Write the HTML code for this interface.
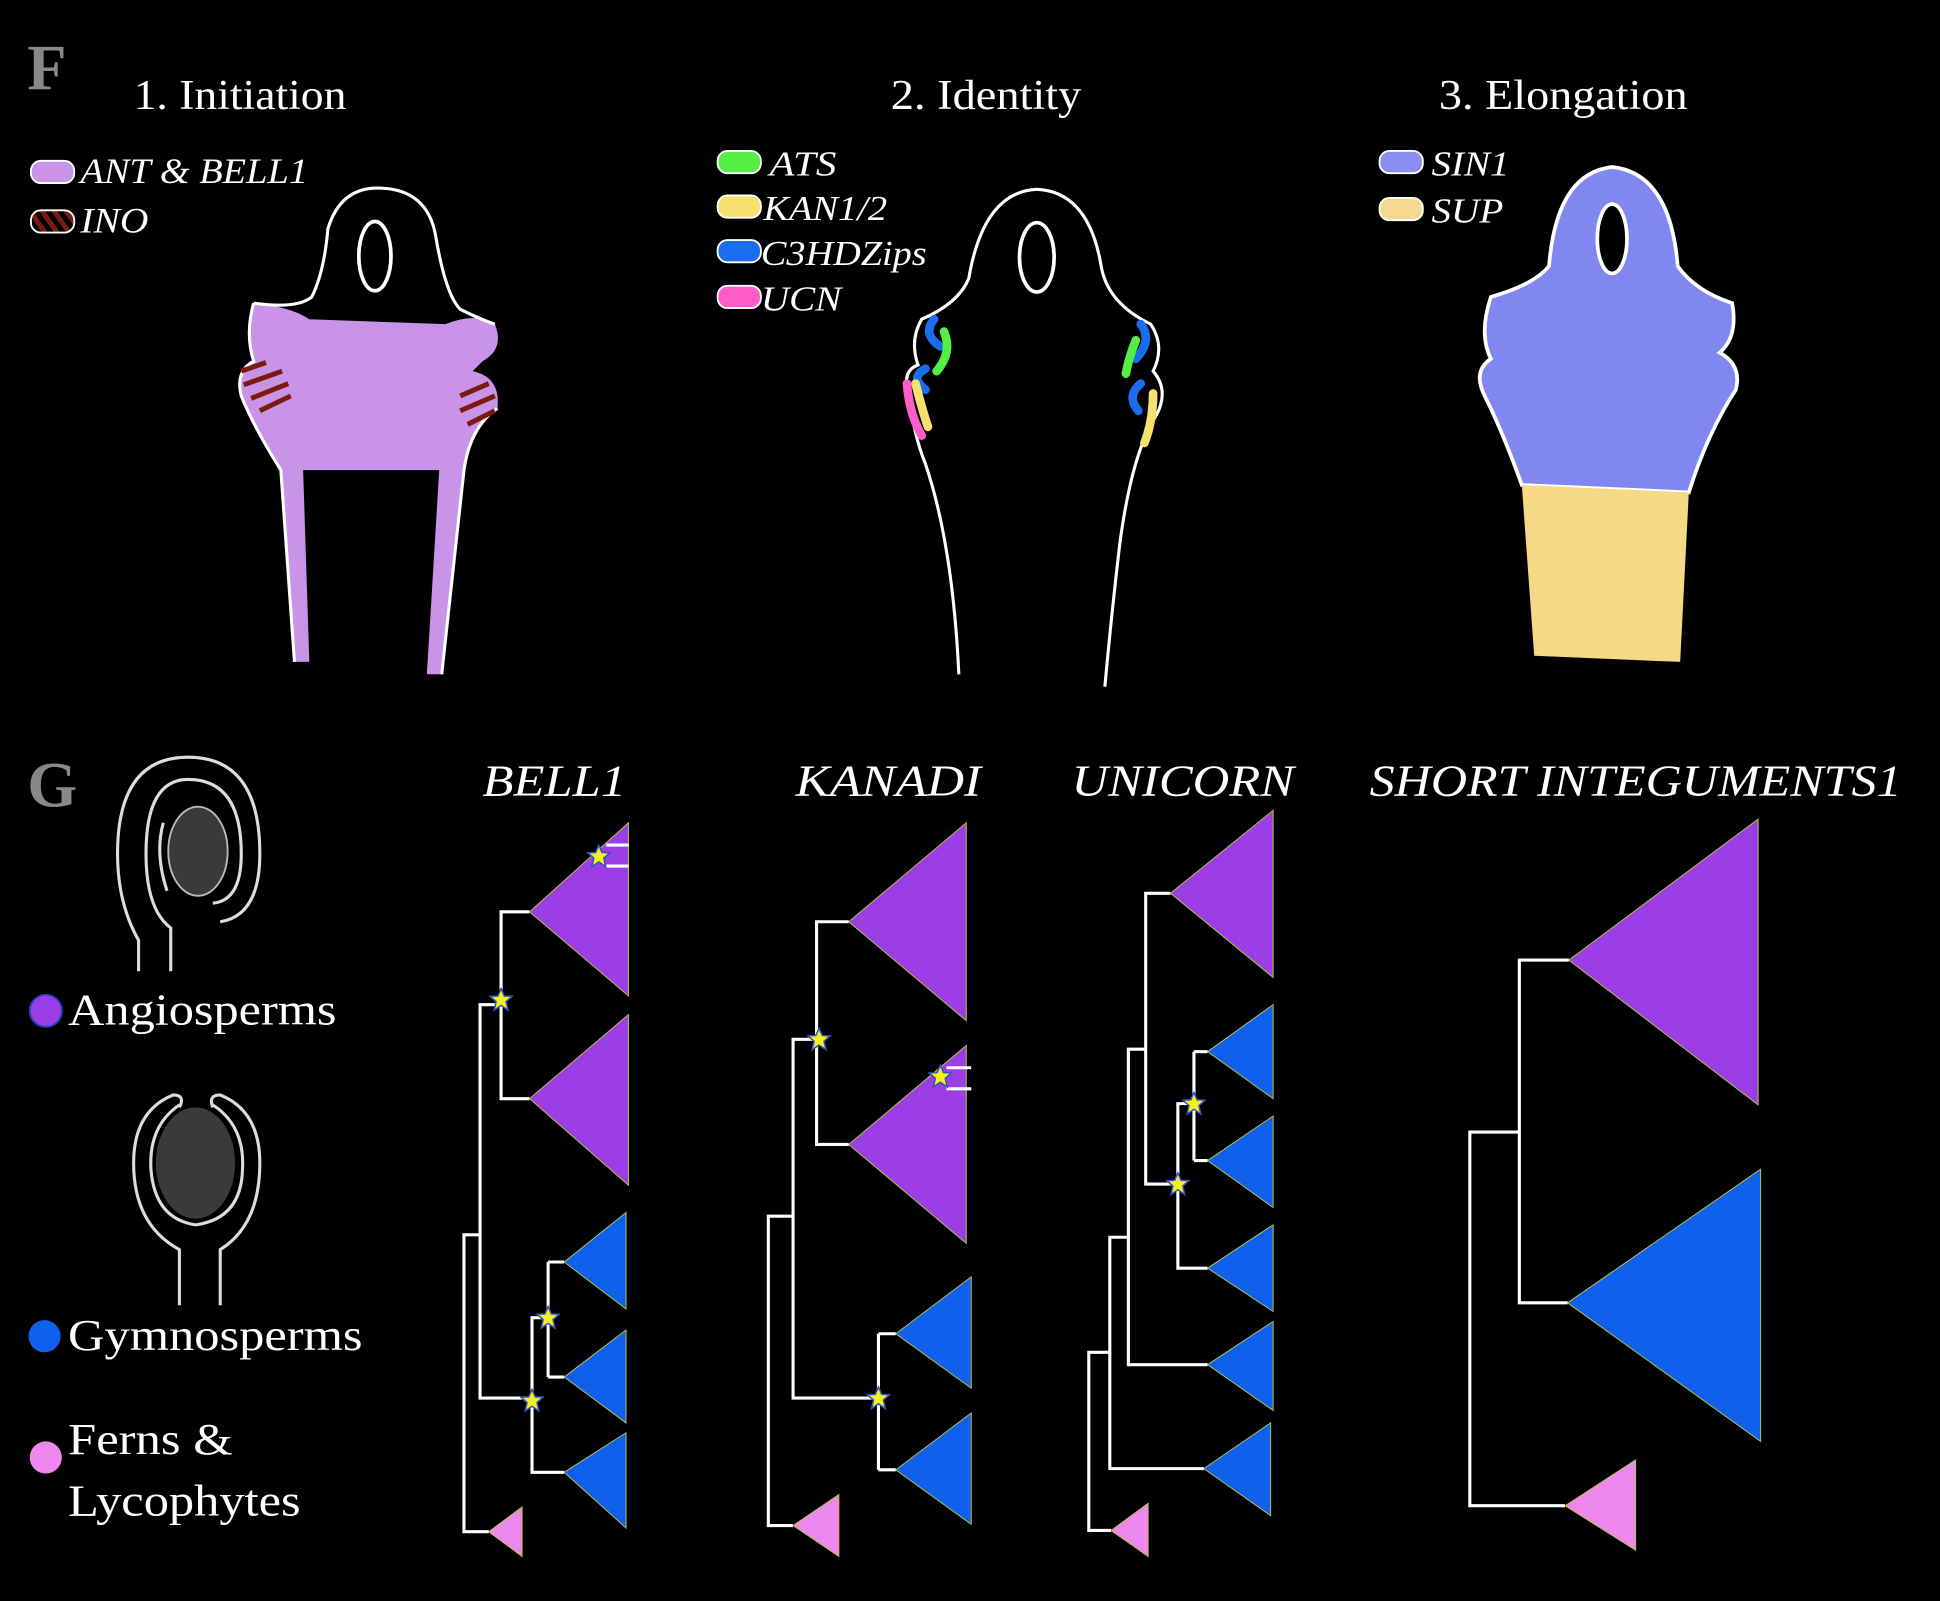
<!DOCTYPE html>
<html><head><meta charset="utf-8"><style>
html,body{margin:0;padding:0;background:#000;}
svg{display:block;}
text{font-family:"Liberation Serif",serif;fill:#fff;}
.it{font-style:italic;}
.ln{stroke:#fff;stroke-width:2.5;fill:none;}
.tri{stroke:#b8c040;stroke-width:0.8;}
.st{fill:#f5f020;stroke:#3050c0;stroke-width:1.2;}
</style></head><body>
<svg width="1940" height="1601" viewBox="0 0 1568 1294" xmlns="http://www.w3.org/2000/svg">
<defs>
<symbol id="star" viewBox="-10 -10 20 20"><polygon class="st" points="0,-9 2.6,-3 9,-2.8 4,1.6 5.6,8.5 0,4.6 -5.6,8.5 -4,1.6 -9,-2.8 -2.6,-3"/></symbol>
<pattern id="hatch" width="8" height="8" patternUnits="userSpaceOnUse" patternTransform="rotate(-35)"><rect width="8" height="8" fill="#000"/><rect width="4" height="8" fill="#7a1a10"/></pattern>
</defs>
<rect width="1568" height="1294" fill="#000"/>

<!-- Panel F -->
<text x="22" y="72" font-size="52" font-weight="bold" style="fill:#888">F</text>
<text x="108" y="88" font-size="34" textLength="172" lengthAdjust="spacingAndGlyphs">1. Initiation</text>
<text x="720" y="88" font-size="34" textLength="154" lengthAdjust="spacingAndGlyphs">2. Identity</text>
<text x="1163" y="88" font-size="34" textLength="201" lengthAdjust="spacingAndGlyphs">3. Elongation</text>

<rect x="25" y="130" width="35" height="18" rx="8" fill="#c994e8" stroke="#fff" stroke-width="1.5"/>
<text x="65" y="148" font-size="29" class="it" textLength="184" lengthAdjust="spacingAndGlyphs">ANT &amp; BELL1</text>
<rect x="25" y="170" width="35" height="18" rx="8" fill="url(#hatch)" stroke="#fff" stroke-width="1.5"/>
<text x="65" y="188" font-size="29" class="it" textLength="55" lengthAdjust="spacingAndGlyphs">INO</text>

<!-- ovule 1 -->
<path d="M205,245 Q235,248 250,258 L360,262 Q385,252 400,262 Q408,282 390,292 L382,300 Q405,305 402,330 Q380,345 375,380 L357,545 L345,545 L355,380 L245,380 L250,535 L238,535 L227,380 Q205,345 195,320 Q190,300 205,292 Q198,270 205,245 Z" fill="#c994e8"/>
<path d="M205,245 Q240,250 252,240 Q262,220 265,185 Q275,152 305,152 Q345,152 352,190 Q360,238 372,250 Q388,258 400,262" class="ln" stroke-width="3"/>
<path d="M205,245 Q198,270 205,292 Q190,300 195,320 Q205,345 227,380 L238,535 M402,330 Q380,345 375,380 L357,545" class="ln" stroke-width="3"/>
<ellipse cx="303" cy="207" rx="13" ry="28" fill="none" stroke="#fff" stroke-width="3"/>
<g stroke="#7a1a10" stroke-width="4">
<line x1="195" y1="300" x2="215" y2="293"/><line x1="197" y1="311" x2="228" y2="300"/><line x1="203" y1="322" x2="233" y2="310"/><line x1="210" y1="332" x2="235" y2="320"/>
<line x1="372" y1="320" x2="395" y2="310"/><line x1="372" y1="332" x2="400" y2="320"/><line x1="378" y1="343" x2="400" y2="332"/>
</g>

<!-- Panel F2 legend -->
<rect x="580" y="122" width="35" height="18" rx="8" fill="#55ee44" stroke="#fff" stroke-width="1.5"/>
<text x="622" y="142" font-size="28" class="it" textLength="54" lengthAdjust="spacingAndGlyphs">ATS</text>
<rect x="580" y="158" width="35" height="18" rx="8" fill="#f5e070" stroke="#fff" stroke-width="1.5"/>
<text x="617" y="178" font-size="28" class="it" textLength="100" lengthAdjust="spacingAndGlyphs">KAN1/2</text>
<rect x="580" y="194" width="35" height="18" rx="8" fill="#1a6eee" stroke="#fff" stroke-width="1.5"/>
<text x="615" y="214" font-size="28" class="it" textLength="134" lengthAdjust="spacingAndGlyphs">C3HDZips</text>
<rect x="580" y="231" width="35" height="18" rx="8" fill="#ff5cc8" stroke="#fff" stroke-width="1.5"/>
<text x="615" y="251" font-size="28" class="it" textLength="65" lengthAdjust="spacingAndGlyphs">UCN</text>
<!-- ovule 2 -->
<path d="M775,545 Q770,440 748,375 Q738,350 735,320 Q728,300 742,295 Q735,275 745,258 Q775,245 783,225 Q795,155 838,153 Q880,155 890,215 Q895,245 930,262 Q942,280 932,300 Q945,315 935,335 Q915,365 905,440 Q898,500 893,555" class="ln" stroke-width="3"/>
<ellipse cx="838" cy="208" rx="14" ry="28" fill="none" stroke="#fff" stroke-width="3"/>
<g stroke-linecap="round" fill="none" stroke-width="7">
<path d="M755,258 Q745,270 760,280" stroke="#1a6eee"/>
<path d="M763,268 Q770,285 757,300" stroke="#55ee44"/>
<path d="M748,298 Q735,305 748,315" stroke="#1a6eee"/>
<path d="M733,310 Q735,335 745,352" stroke="#ff5cc8"/>
<path d="M740,310 Q745,330 750,345" stroke="#f5e070"/>
<path d="M922,262 Q932,275 918,290" stroke="#1a6eee"/>
<path d="M918,275 Q912,290 910,302" stroke="#55ee44"/>
<path d="M922,310 Q910,320 920,332" stroke="#1a6eee"/>
<path d="M932,318 Q932,340 925,358" stroke="#f5e070"/>
</g>

<!-- Panel F3 -->
<rect x="1115" y="122" width="35" height="18" rx="8" fill="#8a8ef0" stroke="#fff" stroke-width="1.5"/>
<text x="1157" y="142" font-size="28" class="it" textLength="63" lengthAdjust="spacingAndGlyphs">SIN1</text>
<rect x="1115" y="160" width="35" height="18" rx="8" fill="#f5d990" stroke="#fff" stroke-width="1.5"/>
<text x="1157" y="180" font-size="28" class="it" textLength="58" lengthAdjust="spacingAndGlyphs">SUP</text>
<path d="M1230,392 Q1215,350 1200,320 Q1190,300 1205,290 Q1195,270 1205,240 Q1240,230 1252,215 Q1258,140 1303,135 Q1350,140 1356,215 Q1370,235 1400,245 Q1405,272 1390,285 Q1408,295 1403,315 Q1380,350 1365,398 Z" fill="#8088f0" stroke="#fff" stroke-width="3"/>
<path d="M1230,392 L1365,398 L1358,535 L1240,530 Z" fill="#f5d985"/>
<ellipse cx="1303" cy="193" rx="12" ry="28" fill="#000" stroke="#fff" stroke-width="3"/>

<!-- Panel G -->
<text x="22" y="652" font-size="52" font-weight="bold" style="fill:#888">G</text>
<g fill="none" stroke="#ddd" stroke-width="2.5">
<path d="M112,785 L112,760 Q95,730 95,690 Q95,612 152,612 Q210,612 210,690 Q210,740 178,745"/>
<path d="M138,785 L138,750 Q118,735 118,690 Q118,630 152,630 Q195,630 195,690 Q195,728 172,730"/>
<path d="M135,720 Q125,690 132,665 M172,718 Q180,690 172,665"/>
</g>
<ellipse cx="160" cy="688" rx="24" ry="36" fill="#3a3a3a" stroke="#bbb" stroke-width="1.5"/>
<g fill="none" stroke="#ddd" stroke-width="2.5">
<path d="M145,1055 L145,1010 Q108,990 108,940 Q108,898 140,885 Q150,885 145,895"/>
<path d="M178,1055 L178,1010 Q210,990 210,940 Q210,898 178,885 Q168,885 172,895"/>
<path d="M145,893 Q120,910 122,945 Q125,985 158,990 Q195,985 196,945 Q198,910 172,893"/>
</g>
<ellipse cx="158" cy="940" rx="32" ry="45" fill="#3a3a3a"/>

<circle cx="37" cy="817" r="13" fill="#9b3ee8" stroke="#2040c0" stroke-width="1.5"/>
<text x="55" y="828" font-size="36" textLength="217" lengthAdjust="spacingAndGlyphs">Angiosperms</text>
<circle cx="36" cy="1080" r="13" fill="#1060ee"/>
<text x="55" y="1091" font-size="36" textLength="238" lengthAdjust="spacingAndGlyphs">Gymnosperms</text>
<circle cx="37" cy="1178" r="13" fill="#ee88ee"/>
<text x="55" y="1175" font-size="36" textLength="133" lengthAdjust="spacingAndGlyphs">Ferns &amp;</text>
<text x="55" y="1225" font-size="36" textLength="188" lengthAdjust="spacingAndGlyphs">Lycophytes</text>

<text x="390" y="643" font-size="36" class="it" textLength="116" lengthAdjust="spacingAndGlyphs">BELL1</text>
<text x="643" y="643" font-size="36" class="it" textLength="150" lengthAdjust="spacingAndGlyphs">KANADI</text>
<text x="866" y="643" font-size="36" class="it" textLength="180" lengthAdjust="spacingAndGlyphs">UNICORN</text>
<text x="1107" y="643" font-size="36" class="it" textLength="430" lengthAdjust="spacingAndGlyphs">SHORT INTEGUMENTS1</text>

<!-- BELL1 tree -->
<g class="tri">
<polygon points="428,737 508,665 508,805" fill="#9b3ee8"/>
<polygon points="428,888 508,820 508,958" fill="#9b3ee8"/>
<polygon points="456,1020 506,980 506,1058" fill="#1060ee"/>
<polygon points="456,1113 506,1075 506,1150" fill="#1060ee"/>
<polygon points="456,1190 506,1158 506,1235" fill="#1060ee"/>
<polygon points="395,1238 422,1218 422,1258" fill="#ee88ee"/>
</g>
<path class="ln" d="M428,737 H405 V888 H428 M405,812 H388 V1130 H430 M443,1020 V1113 M443,1020 H456 M443,1113 H456 M443,1065 H430 V1190 H456 M388,998 H375 V1238 H395 M490,683 H508 M490,700 H508"/>
<use href="#star" x="395" y="798" width="20" height="20"/>
<use href="#star" x="433" y="1055" width="20" height="20"/>
<use href="#star" x="420" y="1122" width="20" height="20"/>
<use href="#star" x="474" y="682" width="20" height="20"/>

<!-- KANADI tree -->
<g class="tri">
<polygon points="686,745 781,665 781,825" fill="#9b3ee8"/>
<polygon points="686,925 781,845 781,1005" fill="#9b3ee8"/>
<polygon points="724,1078 785,1032 785,1122" fill="#1060ee"/>
<polygon points="724,1188 785,1142 785,1232" fill="#1060ee"/>
<polygon points="641,1233 678,1208 678,1258" fill="#ee88ee"/>
</g>
<path class="ln" d="M686,745 H660 V925 H686 M660,840 H641 V1130 H710 M710,1078 V1188 M710,1078 H724 M710,1188 H724 M641,983 H621 V1233 H641 M765,863 H785 M765,880 H785"/>
<use href="#star" x="652" y="830" width="20" height="20"/>
<use href="#star" x="700" y="1120" width="20" height="20"/>
<use href="#star" x="750" y="860" width="20" height="20"/>

<!-- UNICORN tree -->
<g class="tri">
<polygon points="946,722 1029,655 1029,790" fill="#9b3ee8"/>
<polygon points="976,850 1029,812 1029,888" fill="#1060ee"/>
<polygon points="976,938 1029,902 1029,976" fill="#1060ee"/>
<polygon points="976,1025 1029,990 1029,1060" fill="#1060ee"/>
<polygon points="976,1103 1029,1068 1029,1140" fill="#1060ee"/>
<polygon points="973,1187 1027,1150 1027,1225" fill="#1060ee"/>
<polygon points="898,1237 928,1215 928,1258" fill="#ee88ee"/>
</g>
<path class="ln" d="M946,722 H926 V957 H952 M965,850 V938 M965,850 H976 M965,938 H976 M965,892 H952 V1025 H976 M926,848 H912 V1103 H976 M912,1000 H897 V1187 H973 M897,1093 H880 V1237 H898"/>
<use href="#star" x="955" y="882" width="20" height="20"/>
<use href="#star" x="942" y="947" width="20" height="20"/>

<!-- SIN1 tree -->
<g class="tri">
<polygon points="1268,776 1421,662 1421,893" fill="#9b3ee8"/>
<polygon points="1267,1053 1423,945 1423,1165" fill="#1060ee"/>
<polygon points="1265,1217 1322,1180 1322,1253" fill="#ee88ee"/>
</g>
<path class="ln" stroke-width="4" d="M1268,776 H1228 V1053 H1267 M1228,915 H1188 V1217 H1265"/>
</svg>
</body></html>
